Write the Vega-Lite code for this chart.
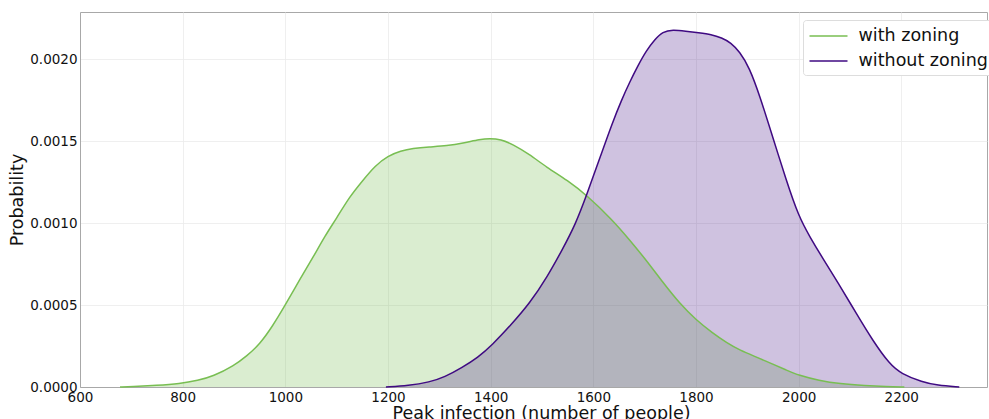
{
  "$schema": "https://vega.github.io/schema/vega-lite/v6.json",
  "width": 907,
  "height": 375,
  "autosize": {"type": "none"},
  "padding": {"left": 80, "top": 12, "right": 2, "bottom": 32},
  "config": {
    "font": "DejaVu Sans",
    "view": {"stroke": "#a8a8a8", "strokeWidth": 1},
    "axis": {
      "labelFont": "DejaVu Sans",
      "titleFont": "DejaVu Sans",
      "labelFontSize": 13.5,
      "titleFontSize": 17.5,
      "titleFontWeight": "normal",
      "labelColor": "#111",
      "titleColor": "#111",
      "ticks": false,
      "gridColor": "#ebebeb",
      "gridWidth": 0.8,
      "domainColor": "#a8a8a8",
      "domainWidth": 1
    }
  },
  "data": {
    "values": [
      {"series": "with zoning", "x": 678, "y": 0},
      {"series": "with zoning", "x": 700, "y": 0.000003},
      {"series": "with zoning", "x": 750, "y": 0.00001},
      {"series": "with zoning", "x": 794, "y": 0.00002},
      {"series": "with zoning", "x": 830, "y": 0.00004},
      {"series": "with zoning", "x": 859, "y": 0.000065},
      {"series": "with zoning", "x": 900, "y": 0.00013},
      {"series": "with zoning", "x": 925, "y": 0.00019},
      {"series": "with zoning", "x": 950, "y": 0.00026},
      {"series": "with zoning", "x": 975, "y": 0.00037},
      {"series": "with zoning", "x": 1000, "y": 0.0005},
      {"series": "with zoning", "x": 1027, "y": 0.00065},
      {"series": "with zoning", "x": 1054, "y": 0.00079},
      {"series": "with zoning", "x": 1077, "y": 0.00092},
      {"series": "with zoning", "x": 1100, "y": 0.00103},
      {"series": "with zoning", "x": 1125, "y": 0.00116},
      {"series": "with zoning", "x": 1151, "y": 0.00126},
      {"series": "with zoning", "x": 1175, "y": 0.00135},
      {"series": "with zoning", "x": 1200, "y": 0.00141},
      {"series": "with zoning", "x": 1225, "y": 0.00144},
      {"series": "with zoning", "x": 1248, "y": 0.001456},
      {"series": "with zoning", "x": 1280, "y": 0.001465},
      {"series": "with zoning", "x": 1314, "y": 0.00147},
      {"series": "with zoning", "x": 1350, "y": 0.00149},
      {"series": "with zoning", "x": 1379, "y": 0.00151},
      {"series": "with zoning", "x": 1398, "y": 0.001516},
      {"series": "with zoning", "x": 1420, "y": 0.00151},
      {"series": "with zoning", "x": 1443, "y": 0.00148},
      {"series": "with zoning", "x": 1475, "y": 0.00142},
      {"series": "with zoning", "x": 1509, "y": 0.00134},
      {"series": "with zoning", "x": 1550, "y": 0.00126},
      {"series": "with zoning", "x": 1587, "y": 0.00117},
      {"series": "with zoning", "x": 1637, "y": 0.00102},
      {"series": "with zoning", "x": 1670, "y": 0.0009},
      {"series": "with zoning", "x": 1704, "y": 0.00077},
      {"series": "with zoning", "x": 1735, "y": 0.00064},
      {"series": "with zoning", "x": 1768, "y": 0.00051},
      {"series": "with zoning", "x": 1800, "y": 0.00041},
      {"series": "with zoning", "x": 1832, "y": 0.00033},
      {"series": "with zoning", "x": 1860, "y": 0.00027},
      {"series": "with zoning", "x": 1885, "y": 0.000225},
      {"series": "with zoning", "x": 1920, "y": 0.00018},
      {"series": "with zoning", "x": 1949, "y": 0.00014},
      {"series": "with zoning", "x": 1975, "y": 0.000105},
      {"series": "with zoning", "x": 2000, "y": 0.000071},
      {"series": "with zoning", "x": 2040, "y": 0.00004},
      {"series": "with zoning", "x": 2080, "y": 0.00002},
      {"series": "with zoning", "x": 2130, "y": 0.000008},
      {"series": "with zoning", "x": 2170, "y": 0.000002},
      {"series": "with zoning", "x": 2206, "y": 0},
      {"series": "without zoning", "x": 1196, "y": 0},
      {"series": "without zoning", "x": 1240, "y": 0.000008},
      {"series": "without zoning", "x": 1281, "y": 0.00003},
      {"series": "without zoning", "x": 1310, "y": 0.00006},
      {"series": "without zoning", "x": 1345, "y": 0.00012},
      {"series": "without zoning", "x": 1375, "y": 0.00018},
      {"series": "without zoning", "x": 1403, "y": 0.000256},
      {"series": "without zoning", "x": 1440, "y": 0.00038},
      {"series": "without zoning", "x": 1476, "y": 0.00051},
      {"series": "without zoning", "x": 1510, "y": 0.00067},
      {"series": "without zoning", "x": 1540, "y": 0.00084},
      {"series": "without zoning", "x": 1565, "y": 0.00099},
      {"series": "without zoning", "x": 1587, "y": 0.00117},
      {"series": "without zoning", "x": 1612, "y": 0.00139},
      {"series": "without zoning", "x": 1637, "y": 0.00161},
      {"series": "without zoning", "x": 1655, "y": 0.00175},
      {"series": "without zoning", "x": 1671, "y": 0.00186},
      {"series": "without zoning", "x": 1687, "y": 0.00196},
      {"series": "without zoning", "x": 1703, "y": 0.00205},
      {"series": "without zoning", "x": 1720, "y": 0.00212},
      {"series": "without zoning", "x": 1735, "y": 0.002167},
      {"series": "without zoning", "x": 1755, "y": 0.00218},
      {"series": "without zoning", "x": 1780, "y": 0.00217},
      {"series": "without zoning", "x": 1805, "y": 0.00216},
      {"series": "without zoning", "x": 1830, "y": 0.00215},
      {"series": "without zoning", "x": 1850, "y": 0.00213},
      {"series": "without zoning", "x": 1868, "y": 0.0021},
      {"series": "without zoning", "x": 1885, "y": 0.002045},
      {"series": "without zoning", "x": 1904, "y": 0.00195},
      {"series": "without zoning", "x": 1925, "y": 0.00177},
      {"series": "without zoning", "x": 1949, "y": 0.00153},
      {"series": "without zoning", "x": 1975, "y": 0.00127},
      {"series": "without zoning", "x": 2000, "y": 0.00104},
      {"series": "without zoning", "x": 2023, "y": 0.00091},
      {"series": "without zoning", "x": 2046, "y": 0.00079},
      {"series": "without zoning", "x": 2080, "y": 0.00062},
      {"series": "without zoning", "x": 2112, "y": 0.00045},
      {"series": "without zoning", "x": 2145, "y": 0.00028},
      {"series": "without zoning", "x": 2177, "y": 0.00014},
      {"series": "without zoning", "x": 2200, "y": 0.00008},
      {"series": "without zoning", "x": 2241, "y": 0.00003},
      {"series": "without zoning", "x": 2270, "y": 0.00001},
      {"series": "without zoning", "x": 2313, "y": 0}
    ]
  },
  "encoding": {
    "x": {
      "field": "x", "type": "quantitative",
      "scale": {"domain": [600, 2367], "nice": false, "zero": false},
      "axis": {"values": [600, 800, 1000, 1200, 1400, 1600, 1800, 2000, 2200], "format": "d", "title": "Peak infection (number of people)", "labelPadding": 3, "titlePadding": 1, "titleX": 461, "labelFlush": false}
    },
    "y": {
      "field": "y", "type": "quantitative", "stack": null,
      "scale": {"domain": [0, 0.002287], "nice": false},
      "axis": {"values": [0, 0.0005, 0.001, 0.0015, 0.002], "format": ".4f", "title": "Probability", "labelPadding": 3, "titlePadding": 3, "labelFlush": false}
    }
  },
  "layer": [
    {
      "transform": [{"filter": "datum.series === 'with zoning'"}],
      "mark": {"type": "area", "interpolate": "basis", "opacity": 0.27, "color": "#78be52"}
    },
    {
      "transform": [{"filter": "datum.series === 'without zoning'"}],
      "mark": {"type": "area", "interpolate": "basis", "opacity": 0.25, "color": "#3f0a82"}
    },
    {
      "mark": {"type": "line", "interpolate": "basis", "strokeWidth": 1.5},
      "encoding": {
        "stroke": {
          "field": "series", "type": "nominal",
          "scale": {"domain": ["with zoning", "without zoning"], "range": ["#78be52", "#3f0a82"]},
          "legend": {
            "title": null,
            "orient": "none",
            "legendX": 723,
            "legendY": 8,
            "symbolType": "M-1,0L3,0",
            "symbolSize": 361,
            "symbolStrokeWidth": 1.5,
            "labelFontSize": 17.5,
            "labelFont": "DejaVu Sans",
            "labelColor": "#111",
            "labelOffset": 29,
            "rowPadding": 6,
            "padding": 5.5,
            "strokeColor": "#dddddd",
            "fillColor": "white",
            "cornerRadius": 3
          }
        }
      }
    }
  ]
}
